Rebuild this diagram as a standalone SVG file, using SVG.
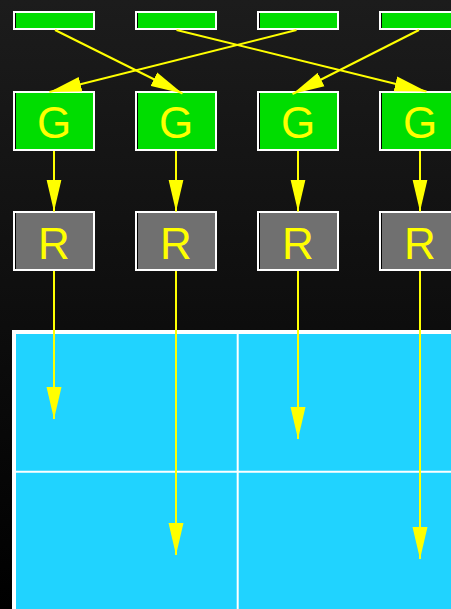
<svg xmlns="http://www.w3.org/2000/svg" width="451" height="609" viewBox="0 0 451 609">
<style>
.bar{fill:#00dd00;stroke:#fff;stroke-width:2}
.g{fill:#00dd00;stroke:#fff;stroke-width:2}
.r{fill:#707070;stroke:#fff;stroke-width:2}
.inner{stroke:#000;stroke-width:1}
.lbl{font-family:"Liberation Sans",Arial,sans-serif;font-size:44px;fill:#ffff00;text-anchor:middle}
.conn{stroke:#ffff00;stroke-width:2;fill:none;marker-end:url(#ah)}
</style>
<defs>
<linearGradient id="bg" x1="0" y1="0" x2="0" y2="1">
<stop offset="0" stop-color="#1c1c1c"/>
<stop offset="0.5" stop-color="#0e0e0e"/>
<stop offset="1" stop-color="#000"/>
</linearGradient>
<marker id="ah" markerUnits="userSpaceOnUse" markerWidth="32" markerHeight="16" viewBox="0 0 32 16" refX="32" refY="8" orient="auto">
<path d="M0,0.5 L32,8 L0,15.5 z" fill="#ffff00"/>
</marker>
</defs>
<rect x="0" y="0" width="451" height="609" fill="url(#bg)"/>
<g id="grid">
<rect x="14" y="332" width="450" height="290" fill="#20d3ff" stroke="#fff" stroke-width="4"/>
<line x1="16" y1="471.7" x2="451" y2="471.7" stroke="#fff" stroke-width="2"/>
<line x1="237.7" y1="334" x2="237.7" y2="609" stroke="#fff" stroke-width="2"/>
</g>
<g id="bar1"><rect class="bar" x="14" y="12" width="80" height="17"/><line class="inner" x1="15.5" y1="13" x2="15.5" y2="28"/></g>
<g id="bar2"><rect class="bar" x="136" y="12" width="80" height="17"/><line class="inner" x1="137.5" y1="13" x2="137.5" y2="28"/></g>
<g id="bar3"><rect class="bar" x="258" y="12" width="80" height="17"/><line class="inner" x1="259.5" y1="13" x2="259.5" y2="28"/></g>
<g id="bar4"><rect class="bar" x="380" y="12" width="80" height="17"/><line class="inner" x1="381.5" y1="13" x2="381.5" y2="28"/></g>
<g id="g1"><rect class="g" x="14" y="92" width="80" height="58"/><line class="inner" x1="15.5" y1="93" x2="15.5" y2="149"/><text class="lbl" x="54" y="138">G</text></g>
<g id="g2"><rect class="g" x="136" y="92" width="80" height="58"/><line class="inner" x1="137.5" y1="93" x2="137.5" y2="149"/><text class="lbl" x="176" y="138">G</text></g>
<g id="g3"><rect class="g" x="258" y="92" width="80" height="58"/><line class="inner" x1="259.5" y1="93" x2="259.5" y2="149"/><text class="lbl" x="298" y="138">G</text></g>
<g id="g4"><rect class="g" x="380" y="92" width="80" height="58"/><line class="inner" x1="381.5" y1="93" x2="381.5" y2="149"/><text class="lbl" x="420" y="138">G</text></g>
<g id="r1"><rect class="r" x="14" y="212" width="80" height="58"/><line class="inner" x1="15.5" y1="213" x2="15.5" y2="269"/><text class="lbl" x="54" y="258.5">R</text></g>
<g id="r2"><rect class="r" x="136" y="212" width="80" height="58"/><line class="inner" x1="137.5" y1="213" x2="137.5" y2="269"/><text class="lbl" x="176" y="258.5">R</text></g>
<g id="r3"><rect class="r" x="258" y="212" width="80" height="58"/><line class="inner" x1="259.5" y1="213" x2="259.5" y2="269"/><text class="lbl" x="298" y="258.5">R</text></g>
<g id="r4"><rect class="r" x="380" y="212" width="80" height="58"/><line class="inner" x1="381.5" y1="213" x2="381.5" y2="269"/><text class="lbl" x="420" y="258.5">R</text></g>
<g id="connectors">
<path class="conn" d="M55,30 L182.5,93.5"/>
<path class="conn" d="M176.5,30 L426.5,91.5"/>
<path class="conn" d="M296.5,30 L49.5,92"/>
<path class="conn" d="M419,30 L292.5,94"/>
<path class="conn" d="M54,151 L54,211.5"/>
<path class="conn" d="M176,151 L176,211.5"/>
<path class="conn" d="M298,151 L298,211.5"/>
<path class="conn" d="M420,151 L420,211.5"/>
<path class="conn" d="M54,271 L54,419"/>
<path class="conn" d="M176,271 L176,555"/>
<path class="conn" d="M298,271 L298,439"/>
<path class="conn" d="M420,271 L420,559"/>
</g>
</svg>
